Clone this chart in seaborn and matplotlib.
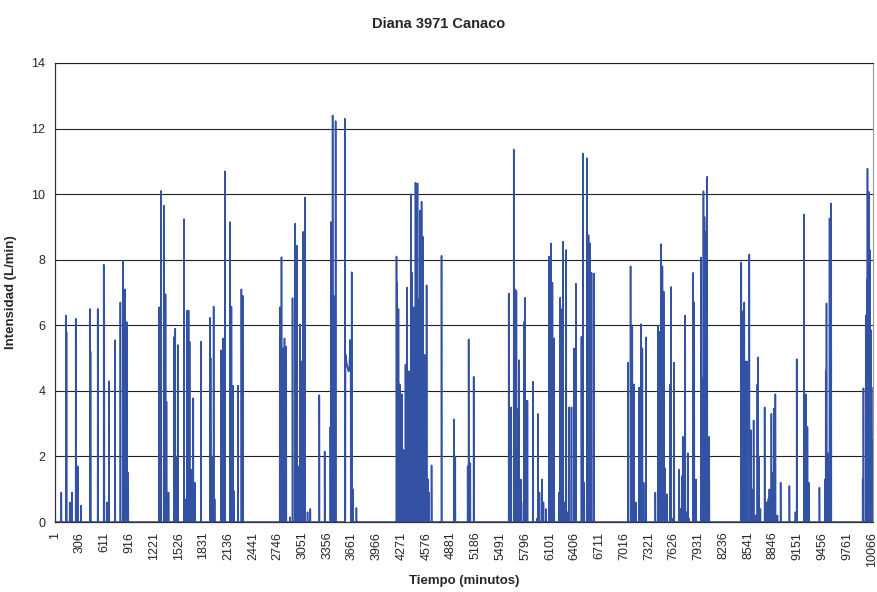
import numpy as np
import pandas as pd
import matplotlib
matplotlib.use('Agg')
import matplotlib.pyplot as plt
import seaborn as sns

# Data: one week of minutes, flow mostly 0 with spikes
n_minutes = 10080
spike_min = [
    79, 137, 143, 183, 211, 257, 281, 322, 433, 439, 528, 602, 608, 643, 668, 742, 807, 837, 862, 886, 903,
    1282, 1291, 1310, 1343, 1363, 1375, 1400, 1471, 1483, 1495, 1516, 1590, 1613, 1631, 1647, 1660, 1684, 1705, 1724, 1800,
    1912, 1919, 1940, 1956, 1968, 2047, 2072, 2097, 2159, 2175, 2191, 2203, 2257, 2298, 2314,
    2771, 2792, 2813, 2829, 2850, 2895, 2928, 2961, 2981, 2998, 3018, 3039, 3060, 3080, 3113, 3147,
    3258, 3324, 3394, 3401, 3422, 3435, 3459, 3574, 3657, 3673, 3715,
    4209, 4216, 4233, 4249, 4274, 4295, 4320, 4339, 4360, 4385, 4401, 4422, 4443, 4468, 4488, 4497, 4518, 4534,
    4555, 4580, 4599, 4608, 4641, 4764, 4917, 4933, 5086, 5098, 5118, 5160,
    5592, 5620, 5654, 5670, 5686, 5699, 5716, 5741, 5748, 5778, 5794, 5810, 5822, 5889, 5938, 5954, 5970, 6000,
    6019, 6049, 6086, 6098, 6114, 6130, 6151, 6209, 6225, 6246, 6262, 6279, 6300, 6320, 6337, 6365, 6398, 6419,
    6488, 6506, 6522, 6555, 6575, 6592, 6604, 6612, 6641,
    7061, 7093, 7114, 7135, 7160, 7197, 7222, 7238, 7254, 7284,
    7398, 7431, 7448, 7469, 7485, 7501, 7514, 7543, 7580, 7593, 7609, 7630, 7692, 7711, 7724, 7736, 7749, 7766,
    7782, 7798, 7815, 7864, 7877, 7901, 7963, 7979, 7991, 8004, 8016, 8025, 8037, 8062,
    8457, 8473, 8482, 8494, 8507, 8514, 8527, 8556, 8576, 8588, 8609, 8630, 8655, 8662, 8675, 8692, 8745, 8766,
    8791, 8803, 8828, 8844, 8860, 8877, 8902, 8942, 9050, 9124, 9140,
    9230, 9251, 9272, 9288, 9420, 9490, 9498, 9507, 9527, 9545, 9565,
    9953, 9962, 9991, 10004, 10012, 10028, 10041, 10057, 10064, 10071, 10080,
]
spike_val = [
    0.9, 6.3, 5.8, 0.6, 0.9, 6.2, 1.7, 0.5, 6.5, 5.2, 6.5, 7.85, 6.7, 0.6, 4.3, 5.55, 6.7, 7.97, 7.1, 6.1, 1.5,
    6.55, 1.1, 10.1, 9.65, 6.95, 3.67, 0.9, 5.65, 5.9, 2.0, 5.4, 9.24, 0.7, 6.45, 6.45, 5.5, 1.6, 3.78, 1.2, 5.5,
    6.23, 5.0, 2.0, 6.57, 0.7, 5.24, 5.6, 10.7, 9.15, 6.57, 4.16, 0.95, 4.16, 7.1, 6.9,
    6.55, 8.08, 5.3, 5.6, 5.35, 0.15, 6.83, 9.1, 8.43, 1.7, 6.03, 4.9, 8.85, 9.9, 0.3, 0.4,
    3.87, 2.15, 2.9, 9.15, 12.4, 6.9, 12.23, 12.3, 7.62, 1.0, 0.43,
    8.1, 7.3, 6.5, 4.2, 3.9, 2.2, 4.8, 7.15, 4.6, 10.0, 7.6, 6.55, 10.35, 10.33, 6.8, 9.5, 9.77, 8.7,
    5.1, 7.22, 1.3, 0.9, 1.73, 8.12, 3.13, 2.0, 1.7, 5.57, 1.8, 4.43,
    6.97, 3.5, 11.36, 7.1, 7.05, 3.45, 4.94, 1.3, 0.6, 6.1, 6.84, 3.7, 3.7, 4.28, 0.1, 3.3, 0.9, 1.3,
    0.6, 0.4, 8.1, 6.7, 8.5, 7.3, 5.6, 0.9, 6.84, 6.5, 8.55, 0.6, 8.3, 0.3, 3.5, 3.5, 5.3, 7.27,
    5.65, 11.24, 1.2, 11.1, 8.75, 8.5, 2.6, 7.6, 7.58,
    4.86, 7.8, 6.0, 4.2, 0.6, 4.1, 6.04, 5.3, 1.2, 5.63,
    0.9, 6.0, 5.8, 8.48, 7.8, 7.03, 1.65, 0.85, 4.2, 7.17, 0.1, 4.86, 1.6, 0.4, 1.4, 2.6, 0.6, 6.3,
    0.3, 2.1, 0.1, 7.6, 6.7, 1.3, 8.07, 4.4, 10.09, 9.3, 2.6, 8.85, 10.53, 2.6,
    7.92, 2.5, 6.44, 6.7, 2.6, 4.9, 4.9, 8.16, 2.8, 1.0, 3.1, 0.2, 4.2, 5.02, 2.0, 0.4, 3.5, 0.6,
    0.7, 1.0, 3.3, 1.5, 3.46, 3.9, 0.2, 1.2, 1.1, 0.3, 4.97,
    9.38, 3.9, 2.9, 1.2, 1.05, 1.3, 4.6, 6.67, 2.1, 9.26, 9.72,
    1.3, 4.08, 6.3, 7.4, 10.78, 10.07, 8.3, 5.85, 0.3, 2.5, 4.1,
]
# sustained flow after the 12.3 peak (about minutes 3580-3640)
plateau_start = 3580
plateau_val = [5.1, 5.0, 4.9, 4.8, 4.75, 4.7, 4.65, 4.6, 4.6, 4.7, 5.0, 5.55, 5.2]

minutes = np.arange(1, n_minutes + 1)
flow = np.zeros(n_minutes)
flow[np.array(spike_min) - 1] = spike_val
p = np.repeat(plateau_val, 5)
flow[plateau_start - 1:plateau_start - 1 + len(p)] = p
df = pd.DataFrame({'minuto': minutes, 'intensidad': flow})

tick_pos = list(range(1, n_minutes + 1, 305))

sns.set_style('white')
plt.rcParams['font.family'] = ['Liberation Sans', 'DejaVu Sans']

fig = plt.figure(figsize=(8.78, 5.92), dpi=100)
ax = fig.add_axes([0.0626, 0.1182, 0.9317, 0.7754])

sns.lineplot(data=df, x='minuto', y='intensidad', ax=ax, color='#3352A4',
             linewidth=1.15, estimator=None, sort=False)

ax.set_xlim(1, n_minutes)
ax.set_ylim(0, 14)
ax.set_yticks(range(0, 15, 2))
ax.set_xticks(tick_pos)
ax.set_xticklabels([str(t) for t in tick_pos], rotation=90, fontsize=9)
ax.tick_params(axis='y', labelsize=9)
ax.tick_params(axis='both', direction='out', length=4, width=0.8, color='#222222', pad=3)
ax.yaxis.grid(True, color='#222222', linewidth=0.8)
ax.set_axisbelow(True)

for side in ['left', 'bottom']:
    ax.spines[side].set_color('#333333')
    ax.spines[side].set_linewidth(0.9)
ax.spines['top'].set_color('#222222')
ax.spines['top'].set_linewidth(0.8)
ax.spines['right'].set_color('#999999')
ax.spines['right'].set_linewidth(0.8)

ax.set_xlabel('Tiempo (minutos)', fontsize=9.5, fontweight='bold', labelpad=6)
ax.set_ylabel('Intensidad (L/min)', fontsize=9.5, fontweight='bold', labelpad=10)
fig.suptitle('Diana 3971 Canaco', fontsize=10.5, fontweight='bold', y=0.972)

fig.savefig('out.png', dpi=100)
